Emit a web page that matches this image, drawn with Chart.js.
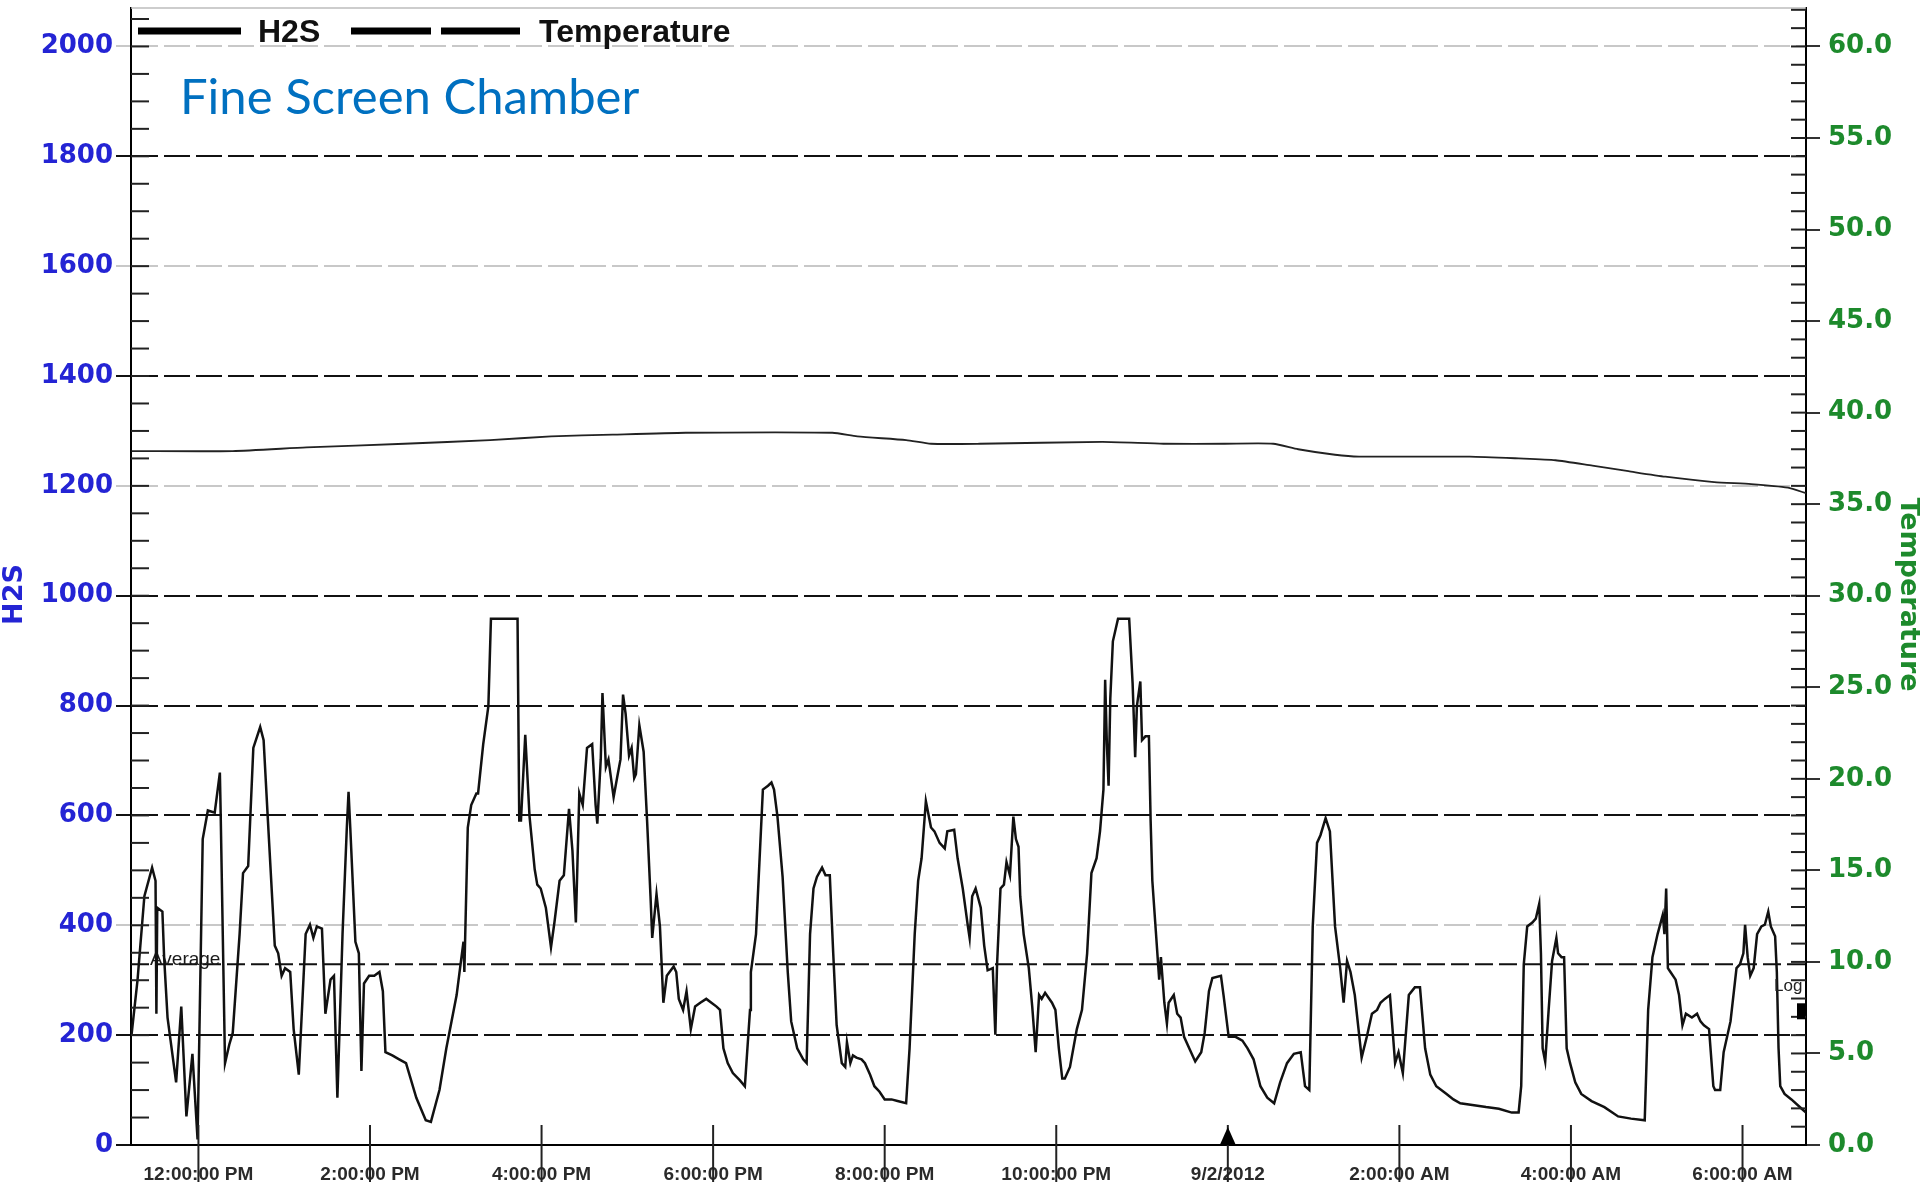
<!DOCTYPE html>
<html>
<head>
<meta charset="utf-8">
<script src="https://cdn.jsdelivr.net/npm/chart.js@4.4.1/dist/chart.umd.min.js"></script>
<style>
  html, body { margin: 0; padding: 0; background: #fff; }
  #wrap { width: 1920px; height: 1189px; position: relative; }
</style>
</head>
<body>
<div id="wrap"><canvas id="chart"></canvas></div>
<script>
// time in hours from midnight 9/1/2012
const h2sHours = [
  11.22, 11.29, 11.37, 11.46, 11.50, 11.51, 11.52, 11.58, 11.60, 11.64, 11.74, 11.80, 11.86, 11.93, 11.99,
  12.05, 12.11, 12.19, 12.25, 12.26, 12.31, 12.36, 12.40, 12.48, 12.52, 12.58, 12.64, 12.72, 12.76, 12.81,
  12.89, 12.93, 12.97, 13.01, 13.07, 13.11, 13.17, 13.25, 13.30, 13.34, 13.38, 13.44, 13.48, 13.54, 13.58,
  13.62, 13.68, 13.73, 13.75, 13.77, 13.83, 13.87, 13.90, 13.93, 13.99, 14.05, 14.11, 14.15, 14.18, 14.26,
  14.34, 14.42, 14.54, 14.65, 14.71, 14.81, 14.89, 15.01, 15.05, 15.09, 15.10, 15.14, 15.18, 15.24, 15.26,
  15.32, 15.38, 15.41, 15.72, 15.74, 15.76, 15.81, 15.86, 15.92, 15.95, 15.99, 16.05, 16.11, 16.15, 16.21,
  16.26, 16.32, 16.36, 16.40, 16.44, 16.48, 16.53, 16.59, 16.63, 16.65, 16.69, 16.71, 16.75, 16.78, 16.84,
  16.88, 16.92, 16.95, 16.98, 17.02, 17.05, 17.08, 17.10, 17.14, 17.19, 17.23, 17.27, 17.29, 17.34, 17.38,
  17.42, 17.46, 17.54, 17.57, 17.60, 17.65, 17.69, 17.74, 17.79, 17.85, 17.92, 17.98, 18.04, 18.08, 18.12,
  18.17, 18.23, 18.31, 18.37, 18.43, 18.44, 18.50, 18.58, 18.64, 18.68, 18.71, 18.75, 18.81, 18.87, 18.91,
  18.98, 19.05, 19.09, 19.13, 19.17, 19.21, 19.27, 19.31, 19.36, 19.40, 19.44, 19.50, 19.54, 19.56, 19.60,
  19.63, 19.67, 19.73, 19.77, 19.83, 19.88, 19.94, 20.00, 20.08, 20.15, 20.25, 20.29, 20.35, 20.39, 20.43,
  20.48, 20.54, 20.58, 20.64, 20.70, 20.73, 20.81, 20.85, 20.91, 20.97, 20.99, 21.02, 21.06, 21.12, 21.16,
  21.20, 21.26, 21.29, 21.31, 21.35, 21.39, 21.42, 21.46, 21.50, 21.53, 21.56, 21.58, 21.62, 21.68, 21.72,
  21.76, 21.80, 21.83, 21.87, 21.95, 21.99, 22.03, 22.07, 22.10, 22.16, 22.24, 22.30, 22.36, 22.41, 22.47,
  22.51, 22.55, 22.57, 22.59, 22.61, 22.63, 22.66, 22.72, 22.85, 22.89, 22.92, 22.94, 22.98, 23.00, 23.04,
  23.08, 23.10, 23.12, 23.16, 23.20, 23.22, 23.26, 23.29, 23.31, 23.37, 23.41, 23.45, 23.49, 23.55, 23.62,
  23.69, 23.73, 23.78, 23.82, 23.92, 23.95, 24.01, 24.09, 24.17, 24.23, 24.30, 24.38, 24.46, 24.54, 24.61,
  24.69, 24.77, 24.85, 24.90, 24.95, 24.99, 25.04, 25.08, 25.14, 25.19, 25.25, 25.31, 25.35, 25.39, 25.43,
  25.48, 25.56, 25.62, 25.68, 25.74, 25.78, 25.83, 25.89, 25.95, 25.99, 26.04, 26.11, 26.18, 26.24, 26.30,
  26.36, 26.43, 26.55, 26.63, 26.71, 26.85, 27.01, 27.16, 27.31, 27.39, 27.42, 27.45, 27.49, 27.55, 27.59,
  27.63, 27.65, 27.67, 27.70, 27.74, 27.78, 27.83, 27.85, 27.89, 27.92, 27.95, 27.99, 28.05, 28.12, 28.24,
  28.39, 28.55, 28.70, 28.86, 28.90, 28.95, 29.01, 29.07, 29.09, 29.11, 29.13, 29.16, 29.22, 29.26, 29.30,
  29.34, 29.41, 29.47, 29.51, 29.55, 29.61, 29.66, 29.68, 29.74, 29.78, 29.86, 29.93, 29.97, 30.01, 30.03,
  30.06, 30.09, 30.13, 30.17, 30.22, 30.26, 30.30, 30.33, 30.38, 30.40, 30.42, 30.44, 30.49, 30.57, 30.69,
  30.74
];
const h2sValues = [
  200, 300, 453, 505, 481, 239, 432, 425, 342, 232, 114, 252, 52, 166, 10,
  557, 609, 605, 678, 598, 149, 183, 204, 384, 495, 508, 723, 761, 737, 591,
  363, 349, 308, 322, 315, 211, 128, 384, 401, 377, 398, 394, 239, 301, 308,
  86, 384, 578, 643, 578, 370, 349, 135, 294, 308, 308, 315, 280, 169, 163,
  156, 149, 86, 45, 42, 100, 176, 273, 322, 370, 315, 578, 619, 640, 640,
  730, 799, 958, 958, 591, 591, 747, 598, 502, 474, 467, 432, 360, 405, 481,
  491, 612, 536, 405, 640, 619, 723, 730, 619, 585, 702, 823, 688, 702, 633,
  668, 702, 820, 785, 709, 723, 668, 675, 764, 716, 591, 453, 377, 457, 398,
  259, 308, 325, 315, 266, 246, 280, 211, 252, 259, 266, 259, 252, 246, 176,
  149, 131, 118, 107, 246, 315, 384, 647, 654, 660, 647, 598, 488, 315, 225,
  176, 156, 149, 384, 467, 488, 505, 491, 491, 349, 218, 149, 142, 187, 149,
  163, 159, 156, 149, 128, 107, 97, 83, 83, 80, 76, 176, 384, 481, 522,
  626, 578, 571, 550, 540, 571, 574, 522, 467, 398, 377, 453, 467, 432, 363,
  318, 322, 201, 329, 467, 474, 515, 491, 598, 557, 543, 453, 384, 322, 252,
  169, 273, 266, 277, 259, 246, 176, 121, 121, 142, 211, 246, 349, 495, 522,
  571, 647, 847, 730, 654, 813, 917, 958, 958, 841, 706, 799, 844, 737, 744,
  744, 591, 481, 391, 301, 342, 259, 221, 259, 273, 239, 232, 197, 176, 152,
  169, 204, 280, 304, 308, 273, 197, 197, 190, 176, 156, 107, 86, 76, 114,
  149, 166, 169, 107, 100, 398, 550, 564, 595, 571, 398, 322, 259, 335, 315,
  273, 159, 197, 239, 246, 259, 266, 273, 149, 169, 131, 273, 287, 287, 176,
  128, 107, 93, 83, 76, 73, 69, 66, 59, 59, 107, 329, 398, 405, 412,
  439, 349, 176, 152, 246, 335, 377, 349, 342, 342, 176, 149, 114, 93, 80,
  69, 52, 48, 45, 246, 342, 384, 419, 384, 467, 322, 315, 301, 273, 218,
  239, 232, 239, 225, 218, 211, 107, 100, 100, 169, 225, 322, 329, 349, 401,
  342, 308, 322, 384, 398, 401, 425, 398, 380, 315, 176, 107, 93, 83, 66,
  59
];
const tempHours = [
  11.22, 12.40, 13.26, 14.40, 15.40, 16.11, 16.83, 17.68, 19.39, 19.68, 20.25, 20.54, 21.11, 22.54, 23.25,
  23.96, 24.53, 24.82, 25.25, 25.53, 26.82, 27.39, 27.82, 28.25, 28.67, 29.10, 29.67, 30.10, 30.53, 30.74
];
const tempValues = [
  37.9, 37.9, 38.1, 38.3, 38.5, 38.7, 38.8, 38.9, 38.9, 38.7, 38.5, 38.3, 38.3, 38.4, 38.3,
  38.3, 38.3, 38.0, 37.7, 37.6, 37.6, 37.5, 37.4, 37.1, 36.8, 36.5, 36.2, 36.1, 35.9, 35.6
];
const timeTicks = [12, 14, 16, 18, 20, 22, 24, 26, 28, 30];
const timeLabels = ['12:00:00 PM', '2:00:00 PM', '4:00:00 PM', '6:00:00 PM', '8:00:00 PM',
  '10:00:00 PM', '9/2/2012', '2:00:00 AM', '4:00:00 AM', '6:00:00 AM'];
const h2sTicks = [0, 200, 400, 600, 800, 1000, 1200, 1400, 1600, 1800, 2000];
const h2sGrayLines = [400, 1200, 1600, 2000];
const tempTicks = [0, 5, 10, 15, 20, 25, 30, 35, 40, 45, 50, 55, 60];
const h2sAverage = 329;

const X_MIN = 11.214, X_MAX = 30.74;
const Y_MAX = 2070, T_MAX = 62.1;

const BLUE = '#2424d4';
const GREEN = '#1d8a2c';
const AXIS_FONT = '"DejaVu Sans", sans-serif';

function toPoints(xs, ys) {
  return xs.map((x, i) => ({ x: x, y: ys[i] }));
}

function seg(ctx, x1, y1, x2, y2) {
  ctx.beginPath();
  ctx.moveTo(x1, y1);
  ctx.lineTo(x2, y2);
  ctx.stroke();
}

function vText(ctx, text, x, y, angle) {
  ctx.save();
  ctx.translate(x, y);
  ctx.rotate(angle);
  ctx.textAlign = 'center';
  ctx.textBaseline = 'middle';
  ctx.fillText(text, 0, 0);
  ctx.restore();
}

// extra drawing: frame, minor ticks, average line, legend, titles
const overlay = {
  id: 'overlay',
  beforeDatasetsDraw(chart) {
    const { ctx, chartArea: a, scales } = chart;
    const py = scales.y.getPixelForValue(h2sAverage);
    ctx.save();
    ctx.strokeStyle = '#111';
    ctx.lineWidth = 2;
    ctx.setLineDash([18, 6]);
    seg(ctx, a.left, py, a.right, py);
    ctx.setLineDash([]);
    ctx.fillStyle = '#1a1a1a';
    ctx.font = '19px "Liberation Sans", Arial, sans-serif';
    ctx.textBaseline = 'alphabetic';
    ctx.fillText('Average', a.left + 19, py + 1);
    ctx.restore();
  },
  afterDraw(chart) {
    const { ctx, chartArea: a, scales } = chart;
    const x = scales.x, y = scales.y, t = scales.yT;
    ctx.save();

    ctx.strokeStyle = '#bdbdbd';
    ctx.lineWidth = 1.5;
    seg(ctx, a.left, a.top, a.right, a.top);

    ctx.strokeStyle = '#222';
    ctx.lineWidth = 2;
    for (let v = 50; v < Y_MAX; v += 50) {
      const py = y.getPixelForValue(v);
      seg(ctx, a.left, py, a.left + 18, py);
    }
    for (let v = 1; v < T_MAX; v += 1) {
      const py = t.getPixelForValue(v);
      seg(ctx, a.right - 15, py, a.right, py);
    }
    timeTicks.forEach(h => {
      const px = x.getPixelForValue(h);
      seg(ctx, px, a.bottom - 20, px, a.bottom + 37);
    });

    // date marker
    const mx = x.getPixelForValue(24);
    ctx.fillStyle = '#000';
    ctx.beginPath();
    ctx.moveTo(mx, a.bottom - 18);
    ctx.lineTo(mx - 8, a.bottom);
    ctx.lineTo(mx + 8, a.bottom);
    ctx.closePath();
    ctx.fill();

    // axis titles
    const midY = (a.top + a.bottom) / 2 + 18;
    ctx.font = 'bold 27px ' + AXIS_FONT;
    ctx.fillStyle = BLUE;
    vText(ctx, 'H2S', 15, midY, -Math.PI / 2);
    ctx.fillStyle = GREEN;
    vText(ctx, 'Temperature', chart.width - 12, midY, Math.PI / 2);

    // legend
    const ly = a.top + 23;
    ctx.strokeStyle = '#000';
    ctx.lineWidth = 7;
    seg(ctx, a.left + 7, ly, a.left + 110, ly);
    seg(ctx, a.left + 220, ly, a.left + 300, ly);
    seg(ctx, a.left + 310, ly, a.left + 389, ly);
    ctx.fillStyle = '#111';
    ctx.font = 'bold 32px "Liberation Sans", Arial, sans-serif';
    ctx.textBaseline = 'alphabetic';
    ctx.fillText('H2S', a.left + 127, ly + 11);
    ctx.fillText('Temperature', a.left + 408, ly + 11);

    // chart title
    ctx.fillStyle = '#0070c0';
    ctx.font = '49px Lato, "Open Sans", sans-serif';
    ctx.fillText('Fine Screen Chamber', a.left + 49, a.top + 106);

    // log marker
    ctx.fillStyle = '#222';
    ctx.font = '17px "Liberation Sans", Arial, sans-serif';
    ctx.fillText('Log', a.right - 32, y.getPixelForValue(280));
    ctx.fillStyle = '#000';
    ctx.fillRect(a.right - 9, y.getPixelForValue(258), 8, 16);

    ctx.restore();
  }
};

new Chart(document.getElementById('chart'), {
  type: 'line',
  data: {
    datasets: [
      {
        label: 'H2S',
        data: toPoints(h2sHours, h2sValues),
        yAxisID: 'y',
        borderColor: '#111',
        borderWidth: 2.5,
        pointRadius: 0,
        tension: 0
      },
      {
        label: 'Temperature',
        data: toPoints(tempHours, tempValues),
        yAxisID: 'yT',
        borderColor: '#222',
        borderWidth: 1.8,
        pointRadius: 0,
        tension: 0.2
      }
    ]
  },
  options: {
    responsive: true,
    maintainAspectRatio: false,
    animation: false,
    devicePixelRatio: 1,
    layout: { padding: { top: 8, left: 0, right: 0, bottom: 0 } },
    plugins: {
      legend: { display: false },
      tooltip: { enabled: false }
    },
    scales: {
      x: {
        type: 'linear',
        position: 'bottom',
        min: X_MIN,
        max: X_MAX,
        afterBuildTicks(s) { s.ticks = timeTicks.map(v => ({ value: v })); },
        afterFit(s) { s.height = 44; s.paddingLeft = 0; s.paddingRight = 0; },
        grid: { display: false },
        border: { display: true, color: '#000', width: 2 },
        ticks: {
          autoSkip: false,
          maxRotation: 0,
          padding: 10,
          color: '#2a2a2a',
          font: { family: '"Liberation Sans", Arial, sans-serif', weight: 'bold', size: 19 },
          callback: (v, i) => timeLabels[i]
        }
      },
      y: {
        position: 'left',
        min: 0,
        max: Y_MAX,
        afterBuildTicks(s) { s.ticks = h2sTicks.map(v => ({ value: v })); },
        afterFit(s) { s.width = 131; s.paddingTop = 0; s.paddingBottom = 0; },
        grid: {
          color: c => (c.tick && h2sGrayLines.includes(c.tick.value)) ? '#c8c8c8' : '#111',
          lineWidth: 2,
          tickLength: 15
        },
        border: { color: '#000', width: 2, dash: [26, 6] },
        ticks: {
          padding: 3,
          color: BLUE,
          font: { family: AXIS_FONT, weight: 'bold', size: 26 },
          callback: v => String(v)
        }
      },
      yT: {
        position: 'right',
        min: 0,
        max: T_MAX,
        afterBuildTicks(s) { s.ticks = tempTicks.map(v => ({ value: v })); },
        afterFit(s) { s.width = 114; s.paddingTop = 0; s.paddingBottom = 0; },
        grid: {
          drawOnChartArea: false,
          color: '#333',
          lineWidth: 2,
          tickLength: 14
        },
        border: { color: '#000', width: 2 },
        ticks: {
          padding: 8,
          color: GREEN,
          font: { family: AXIS_FONT, weight: 'bold', size: 26 },
          callback: v => Number(v).toFixed(1)
        }
      }
    }
  },
  plugins: [overlay]
});
</script>
</body>
</html>
